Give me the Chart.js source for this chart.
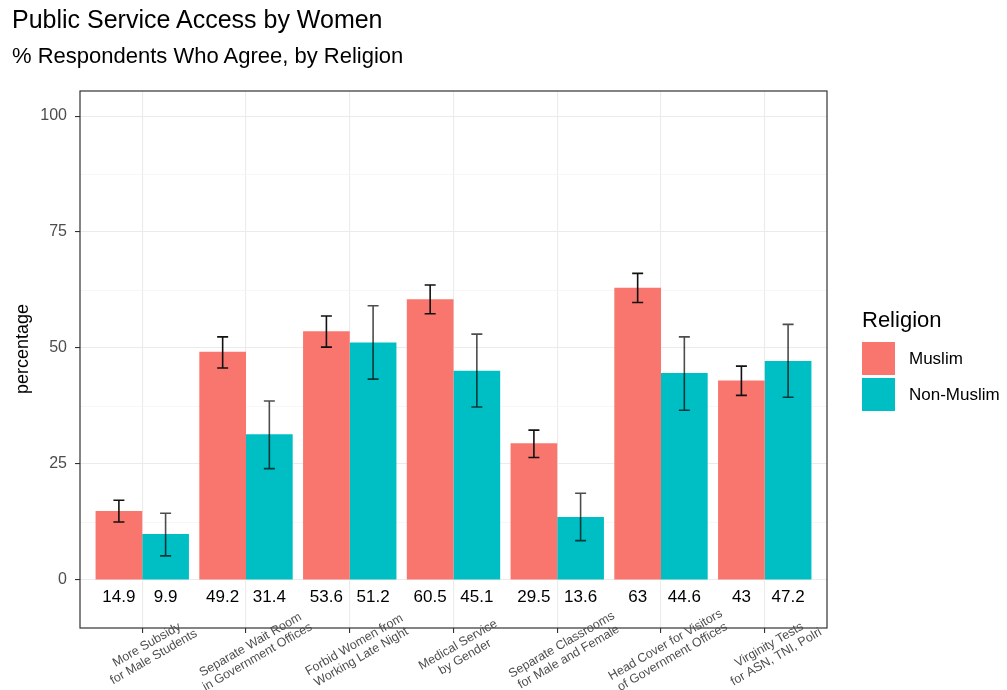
<!DOCTYPE html>
<html>
<head>
<meta charset="utf-8">
<script src="https://cdn.jsdelivr.net/npm/chart.js@4/dist/chart.umd.min.js"></script>
<style>
  body { margin: 0; background: #fff; font-family: "Liberation Sans", Arial, sans-serif; }
  #wrap { position: relative; width: 1007px; height: 690px; }
  #chart-box { position: absolute; left: 0; top: 0; width: 1007px; height: 690px; }
  .txt { position: absolute; white-space: nowrap; color: #000; }
  .key { position: absolute; width: 33px; height: 33px; }
</style>
</head>
<body>
<div id="wrap">
  <div id="chart-box"><canvas id="chart"></canvas></div>
  <div class="txt" style="left:12px; top:5px; font-size:25px;">Public Service Access by Women</div>
  <div class="txt" style="left:12px; top:43px; font-size:22px;">% Respondents Who Agree, by Religion</div>
  <div class="txt" style="left:862px; top:307px; font-size:22px;">Religion</div>
  <div class="key" style="left:862px; top:342px; background:#F8766D;"></div>
  <div class="txt" style="left:909px; top:349px; font-size:17px;">Muslim</div>
  <div class="key" style="left:862px; top:378px; background:#00BFC4;"></div>
  <div class="txt" style="left:909px; top:385px; font-size:17px;">Non-Muslim</div>
</div>
<script>
const categories = [
  ['More Subsidy', 'for Male Students'],
  ['Separate Wait Room', 'in Government Offices'],
  ['Forbid Women from', 'Working Late Night'],
  ['Medical Service', 'by Gender'],
  ['Separate Classrooms', 'for Male and Female'],
  ['Head Cover for Visitors', 'of Government Offices'],
  ['Virginity Tests', 'for ASN, TNI, Polri']
];
const muslim = [14.9, 49.2, 53.6, 60.5, 29.5, 63, 43];
const nonMuslim = [9.9, 31.4, 51.2, 45.1, 13.6, 44.6, 47.2];
const muslimLow = [12.5, 45.7, 50.2, 57.4, 26.4, 59.8, 39.8];
const muslimHigh = [17.2, 52.4, 56.9, 63.6, 32.3, 66.1, 46.1];
const nonMuslimLow = [5.2, 24.0, 43.3, 37.3, 8.5, 36.6, 39.4];
const nonMuslimHigh = [14.4, 38.6, 59.1, 53.0, 18.7, 52.4, 55.1];
const yTicks = [0, 12.5, 25, 37.5, 50, 62.5, 75, 87.5, 100];

const errLow = [muslimLow, nonMuslimLow];
const errHigh = [muslimHigh, nonMuslimHigh];
const errColor = ['#111', 'rgba(0,0,0,0.7)'];

const ggExtras = {
  id: 'ggExtras',
  afterDatasetsDraw(chart) {
    const ctx = chart.ctx;
    const y = chart.scales.y;
    const x = chart.scales.x;
    const area = chart.chartArea;
    ctx.save();
    // error bars + value labels
    chart.data.datasets.forEach((ds, d) => {
      const meta = chart.getDatasetMeta(d);
      meta.data.forEach((bar, i) => {
        const yl = y.getPixelForValue(errLow[d][i]);
        const yh = y.getPixelForValue(errHigh[d][i]);
        ctx.strokeStyle = errColor[d];
        ctx.lineWidth = 1.6;
        ctx.beginPath();
        ctx.moveTo(bar.x, yl); ctx.lineTo(bar.x, yh);
        ctx.moveTo(bar.x - 5.5, yl); ctx.lineTo(bar.x + 5.5, yl);
        ctx.moveTo(bar.x - 5.5, yh); ctx.lineTo(bar.x + 5.5, yh);
        ctx.stroke();
        ctx.fillStyle = '#000';
        ctx.font = '17px "Liberation Sans", Arial, sans-serif';
        ctx.textAlign = 'center';
        ctx.textBaseline = 'middle';
        ctx.fillText(String(ds.data[i].y), bar.x, y.getPixelForValue(-3.7));
      });
    });
    // panel border
    ctx.strokeStyle = '#333';
    ctx.lineWidth = 1.2;
    ctx.strokeRect(area.left, area.top, area.right - area.left, area.bottom - area.top);
    // rotated category labels
    ctx.fillStyle = '#4d4d4d';
    ctx.font = '12.5px "Liberation Sans", Arial, sans-serif';
    ctx.textAlign = 'center';
    ctx.textBaseline = 'middle';
    categories.forEach((lines, i) => {
      ctx.save();
      ctx.translate(x.getPixelForValue(i) + 8, area.bottom + 23);
      ctx.rotate(-Math.PI / 6);
      ctx.fillText(lines[0], 0, -7);
      ctx.fillText(lines[1], 0, 7);
      ctx.restore();
    });
    // y axis title
    ctx.save();
    ctx.fillStyle = '#000';
    ctx.font = '18px "Liberation Sans", Arial, sans-serif';
    ctx.translate(23, 349);
    ctx.rotate(-Math.PI / 2);
    ctx.fillText('percentage', 0, 0);
    ctx.restore();
    ctx.restore();
  }
};

new Chart(document.getElementById('chart'), {
  type: 'bar',
  data: {
    datasets: [
      {
        label: 'Muslim',
        data: muslim.map((v, i) => ({ x: i, y: v })),
        backgroundColor: '#F8766D'
      },
      {
        label: 'Non-Muslim',
        data: nonMuslim.map((v, i) => ({ x: i, y: v })),
        backgroundColor: '#00BFC4'
      }
    ]
  },
  options: {
    responsive: true,
    maintainAspectRatio: false,
    animation: false,
    layout: { padding: { left: 0, top: 91, right: 180, bottom: 0 } },
    datasets: { bar: { categoryPercentage: 0.9, barPercentage: 1.0 } },
    plugins: {
      legend: { display: false },
      tooltip: { enabled: false }
    },
    scales: {
      x: {
        type: 'linear',
        offset: false,
        min: -0.6,
        max: 6.6,
        afterBuildTicks: (axis) => { axis.ticks = categories.map((c, i) => ({ value: i })); },
        afterFit: (axis) => { axis.height = 62; },
        ticks: { display: false },
        border: { display: false },
        grid: {
          color: '#ebebeb',
          lineWidth: 1.1,
          tickLength: 5,
          tickColor: '#333',
          offset: false
        }
      },
      y: {
        min: -10.34,
        max: 105.4,
        afterBuildTicks: (axis) => { axis.ticks = yTicks.map(v => ({ value: v })); },
        afterFit: (axis) => { axis.width = 80; },
        border: { display: false },
        grid: {
          color: (c) => (c.tick && c.tick.value % 25 === 0) ? '#ebebeb' : '#f3f3f3',
          lineWidth: (c) => (c.tick && c.tick.value % 25 === 0) ? 1.1 : 0.7,
          tickLength: 5,
          tickColor: (c) => (c.tick && c.tick.value % 25 === 0) ? '#333' : 'rgba(0,0,0,0)'
        },
        ticks: {
          padding: 8,
          color: '#4d4d4d',
          font: { family: '"Liberation Sans", Arial, sans-serif', size: 16 },
          callback: (v) => (v % 25 === 0 ? String(v) : '')
        }
      }
    }
  },
  plugins: [ggExtras]
});
</script>
</body>
</html>
